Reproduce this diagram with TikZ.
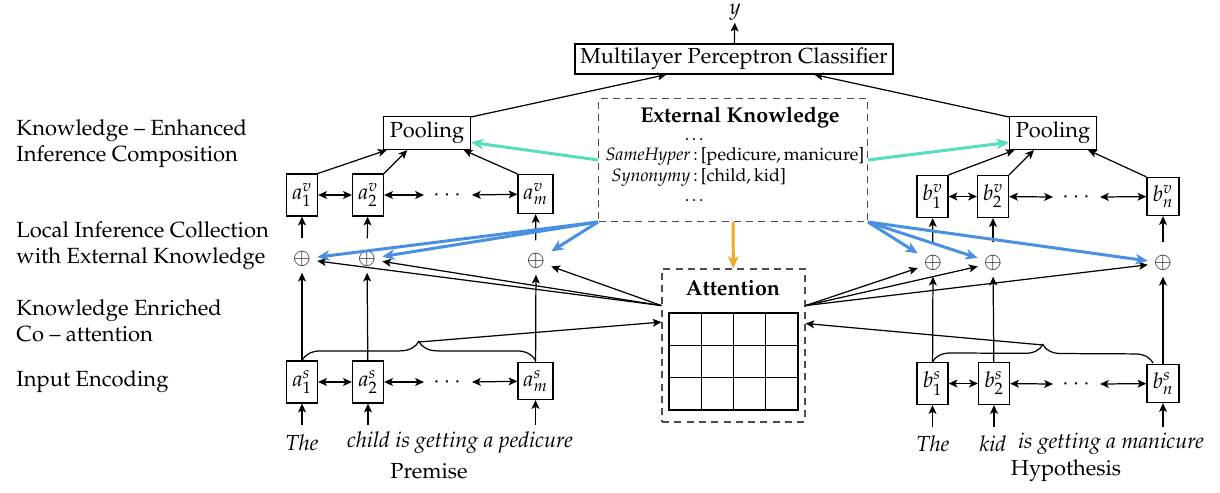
\documentclass[tikz,border=0pt]{standalone}
\usepackage[T1]{fontenc}
\usepackage{mathpazo}
\usetikzlibrary{arrows.meta,decorations.pathreplacing}
\definecolor{kteal}{RGB}{84,222,190}
\definecolor{kblue}{RGB}{74,144,226}
\definecolor{korange}{RGB}{245,166,35}
\tikzstyle{every picture}+=[>={Stealth[length=5pt,width=4.5pt,inset=1.2pt]}]
\tikzstyle{every picture}+=[line width=0.7pt]
\tikzstyle{every picture}+=[font=\fontsize{12.4}{14}\selectfont]
\tikzstyle{vec}=[draw, minimum width=0.62cm, minimum height=0.84cm, inner sep=1pt]
\tikzstyle{layer}=[draw, inner sep=2pt, minimum height=0.6cm]
\tikzstyle{dbox}=[draw=black!70, line width=0.6pt, dash pattern=on 4pt off 3pt]
\tikzstyle{comb}=[inner sep=0pt, outer sep=3.5pt]
\tikzstyle{word}=[font=\fontsize{12.4}{14}\selectfont\itshape]
\tikzstyle{boxtitle}=[font=\fontsize{12.2}{14}\selectfont\bfseries]
\tikzstyle{stage}=[anchor=west, align=left, font=\fontsize{12.5}{14.7}\selectfont]
\tikzstyle{kfeed}=[->, color=kblue, line width=1.7pt, >={Stealth[length=7pt,width=6pt,inset=2pt]}]
\tikzstyle{kpool}=[->, color=kteal, line width=1.7pt, >={Stealth[length=7pt,width=6pt,inset=2pt]}]
\tikzstyle{katt}=[->, color=korange, line width=1.7pt, >={Stealth[length=7pt,width=6pt,inset=2pt]}]

\begin{document}
\begin{tikzpicture}[x=0.02cm, y=-0.02cm]
\useasboundingbox (0,0) rectangle (1220,493);

% stages
\node[stage] (l_comp) at (10,144) {Knowledge -- Enhanced\\Inference Composition};
\node[stage] (l_coll) at (10,246) {Local Inference Collection\\with External Knowledge};
\node[stage] (l_catt) at (10,321) {Knowledge Enriched\\Co -- attention};
\node[stage] (l_enc) at (10,382) {Input Encoding};

% classifier and pooling
\node[layer, minimum width=6.36cm] (mlp) at (734,59) {Multilayer Perceptron Classifier};
\node[inner sep=1pt] (y) at (735,12) {$y$};
\node[layer, minimum width=1.74cm, minimum height=0.66cm] (poola) at (427,133) {Pooling};
\node[layer, minimum width=1.74cm, minimum height=0.66cm] (poolb) at (1053,133) {Pooling};

% external knowledge
\node[dbox, minimum width=5.38cm, minimum height=2.46cm] (ek) at (733,160) {};
\node[boxtitle] (ek_title) at (740,118) {External Knowledge};
\node[font=\fontsize{10.2}{11.6}\selectfont] (ek_facts) at (735,167) {%
  \begin{tabular}{r@{\,}c@{\,}l}
  & \makebox[0pt]{\ldots} & \\
  \textit{SameHyper} & : & [pedicure,\,manicure]\\
  \textit{Synonymy} & : & [child,\,kid]\\
  & \makebox[0pt]{\ldots} &
  \end{tabular}};

% attention
\node[dbox, minimum width=2.86cm, minimum height=3.06cm] (att) at (733.5,345.5) {};
\node[boxtitle] (att_title) at (733,288) {Attention};
\draw[line width=0.8pt] (669,313) rectangle (798,410);
\foreach \gx in {701.25,733.5,765.75} \draw[line width=0.8pt] (\gx,313) -- (\gx,410);
\foreach \gy in {345.3,377.7} \draw[line width=0.8pt] (669,\gy) -- (798,\gy);

% premise side
\node[vec] (av1) at (302,195) {$a^v_1$};
\node[vec] (av2) at (368,195) {$a^v_2$};
\node[vec, minimum width=0.7cm, minimum height=0.78cm] (avm) at (535.5,194) {$a^v_m$};
\node (avdots) at (447,195) {$\cdots$};
\coordinate (av_r) at (424,195);
\coordinate (av_l) at (472,195);

\node[comb] (ca1) at (302,259) {$\oplus$};
\node[comb] (ca2) at (367,259) {$\oplus$};
\node[comb] (cam) at (536,261) {$\oplus$};

\node[vec] (as1) at (302,382) {$a^s_1$};
\node[vec] (as2) at (368,382) {$a^s_2$};
\node[vec, minimum width=0.7cm, minimum height=0.74cm] (asm) at (535.5,381) {$a^s_m$};
\node (asdots) at (447,382) {$\cdots$};
\coordinate (as_r) at (424,382);
\coordinate (as_l) at (472,382);

\coordinate (ia1) at (302,425);
\coordinate (ia2) at (368,425);
\coordinate (iam) at (535.5,425);
\node[word] (pw1) at (302,443) {The};
\node[word] (pw2) at (460,443) {child is getting a pedicure};
\node (premise) at (429,471) {Premise};

\draw[decorate, decoration={brace, amplitude=0.38cm}] (as1.north) -- (asm.north |- as1.north);
\coordinate (bra_a) at (419,342);

% hypothesis side
\node[vec] (bv1) at (932.5,196.5) {$b^v_1$};
\node[vec] (bv2) at (993,196.5) {$b^v_2$};
\node[vec, minimum width=0.64cm, minimum height=0.76cm] (bvn) at (1163,196.5) {$b^v_n$};
\node (bvdots) at (1076,197) {$\cdots$};
\coordinate (bv_r) at (1053,197);
\coordinate (bv_l) at (1100,197);

\node[comb] (cb1) at (933,263) {$\oplus$};
\node[comb] (cb2) at (993,263) {$\oplus$};
\node[comb] (cbn) at (1163,263) {$\oplus$};

\node[vec] (bs1) at (932.5,383.5) {$b^s_1$};
\node[vec] (bs2) at (994,383.5) {$b^s_2$};
\node[vec, minimum width=0.64cm, minimum height=0.76cm] (bsn) at (1163,383.5) {$b^s_n$};
\node (bsdots) at (1076,384) {$\cdots$};
\coordinate (bs_r) at (1053,384);
\coordinate (bs_l) at (1100,384);

\coordinate (ib1) at (932.5,427);
\coordinate (ib2) at (994,427);
\coordinate (ibn) at (1163,427);
\node[word] (hw1) at (933,444) {The};
\node[word] (hw2) at (993,444) {kid};
\node[word] (hw3) at (1111,444) {is getting a manicure};
\node (hypothesis) at (1066,471) {Hypothesis};

\coordinate (bre_b) at (1153,363);
\draw[decorate, decoration={brace, amplitude=0.36cm}] (bs1.north) -- (bre_b);
\coordinate (bra_b) at (1043,345);

% encoding and composition
\path[->]
   (ia1) edge (as1)
   (ia2) edge (as2)
   (iam) edge (asm)
   (ib1) edge (bs1)
   (ib2) edge (bs2)
   (ibn) edge (bsn)
   (as1) edge (ca1)
   (as2) edge (ca2)
   (asm) edge (cam)
   (bs1) edge (cb1)
   (bs2) edge (cb2)
   (bsn) edge (cbn)
   (ca1) edge [shorten <=4pt] (av1)
   (ca2) edge [shorten <=4pt] (av2)
   (cam) edge [shorten <=4pt] (avm)
   (cb1) edge [shorten <=4pt] (bv1)
   (cb2) edge [shorten <=4pt] (bv2)
   (cbn) edge [shorten <=4pt] (bvn)
   (av1.north east) edge (poola.-157)
   (av2.north east) edge (poola.-139)
   (avm.north west) edge (poola.-25)
   (bv1.north east) edge (poolb.-156)
   (bv2.north east) edge (poolb.-138)
   (bvn.north west) edge (poolb.-26)
   (poola.20) edge (mlp.-167.4)
   (poolb.160) edge (mlp.-11.5)
   (mlp) edge (y)
;
\path[<->]
   (as1) edge (as2)
   (as2) edge (as_r)
   (as_l) edge (asm)
   (av1) edge (av2)
   (av2) edge (av_r)
   (av_l) edge (avm)
   (bs1) edge (bs2)
   (bs2) edge (bs_r)
   (bs_l) edge (bsn)
   (bv1) edge (bv2)
   (bv2) edge (bv_r)
   (bv_l) edge (bvn)
;
% co-attention
\path[->]
   (att.151) edge (ca1) edge (ca2) edge (cam)
   (att.29) edge (cb1) edge (cb2) edge (cbn)
   (bra_a) edge (att.162.5)
   (bra_b) edge (att.17.5)
;
% knowledge
\path[kfeed]
   (ek.south west) edge (ca1) edge (ca2) edge (cam)
   (ek.south east) edge (cb1) edge (cb2) edge (cbn)
;
\path[kpool]
   (ek.west) edge (poola.-12)
   (ek.east) edge (poolb.-168)
;
\path[katt] (ek) edge (att);
\end{tikzpicture}
\end{document}
